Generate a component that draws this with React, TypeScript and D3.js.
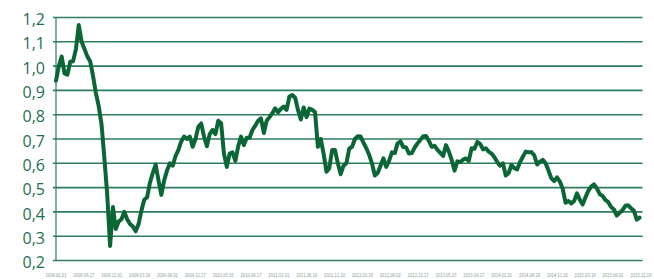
import * as d3 from "d3";
import { useEffect, useRef } from "react";

// series: values read every two weeks starting at seriesStart
const seriesStart = "2008-02-01";
const seriesStepDays = 14;
const seriesValues = [
  0.94, 1.0, 1.039, 0.97, 0.965, 1.018, 1.02, 1.07, 1.169, 1.1,
  1.07, 1.04, 1.02, 0.96, 0.89, 0.835, 0.76, 0.62, 0.47, 0.26,
  0.42, 0.33, 0.36, 0.37, 0.4, 0.37, 0.35, 0.34, 0.32, 0.35,
  0.405, 0.45, 0.46, 0.52, 0.56, 0.595, 0.53, 0.47, 0.53, 0.57,
  0.6, 0.59, 0.63, 0.655, 0.69, 0.71, 0.7, 0.71, 0.668, 0.7,
  0.75, 0.764, 0.71, 0.67, 0.72, 0.737, 0.72, 0.775, 0.765, 0.64,
  0.585, 0.64, 0.645, 0.61, 0.67, 0.71, 0.675, 0.705, 0.705, 0.737,
  0.755, 0.775, 0.785, 0.725, 0.775, 0.79, 0.806, 0.826, 0.81, 0.824,
  0.833, 0.82, 0.875, 0.881, 0.87, 0.82, 0.78, 0.83, 0.79, 0.825,
  0.82, 0.81, 0.668, 0.7, 0.64, 0.565, 0.58, 0.655, 0.655, 0.6,
  0.555, 0.59, 0.6, 0.66, 0.668, 0.7, 0.711, 0.71, 0.685, 0.662,
  0.635, 0.6, 0.55, 0.56, 0.59, 0.62, 0.585, 0.61, 0.645, 0.642,
  0.682, 0.69, 0.667, 0.665, 0.64, 0.642, 0.665, 0.682, 0.697, 0.711,
  0.712, 0.692, 0.668, 0.672, 0.655, 0.643, 0.63, 0.675, 0.648, 0.614,
  0.57, 0.608, 0.605, 0.615, 0.62, 0.61, 0.662, 0.66, 0.688, 0.68,
  0.657, 0.662, 0.648, 0.64, 0.625, 0.605, 0.59, 0.6, 0.55, 0.56,
  0.593, 0.58, 0.575, 0.605, 0.627, 0.648, 0.645, 0.646, 0.633, 0.595,
  0.607, 0.614, 0.6, 0.57, 0.538, 0.527, 0.542, 0.525, 0.495, 0.438,
  0.445, 0.435, 0.445, 0.476, 0.45, 0.43, 0.46, 0.487, 0.504, 0.513,
  0.497, 0.473, 0.466, 0.449, 0.44, 0.42, 0.41, 0.385, 0.397, 0.407,
  0.425, 0.427, 0.415, 0.405, 0.368, 0.376,
];

const xTickLabels = [
  "2008.02.01", "2008.06.17", "2008.11.01", "2009.03.18", "2009.08.02",
  "2009.12.17", "2010.05.03", "2010.09.17", "2011.02.01", "2011.06.18",
  "2011.11.02", "2012.03.18", "2012.08.02", "2012.12.17", "2013.05.03",
  "2013.09.17", "2014.02.01", "2014.06.18", "2014.11.02", "2015.03.18",
  "2015.08.02", "2015.12.18",
];

const yTickValues = [0.2, 0.3, 0.4, 0.5, 0.6, 0.7, 0.8, 0.9, 1.0, 1.1, 1.2];
const yTickLabels = ["0,2", "0,3", "0,4", "0,5", "0,6", "0,7", "0,8", "0,9", "1,0", "1,1", "1,2"];

export default function App() {
  const svgRef = useRef<SVGSVGElement>(null);

  useEffect(() => {
    if (!svgRef.current) return;
    const svg = d3.select(svgRef.current);
    svg.selectAll("*").remove();

    const parseTick = d3.timeParse("%Y.%m.%d");
    const parseStart = d3.timeParse("%Y-%m-%d");
    const start = parseStart(seriesStart) as Date;
    const tickDates = xTickLabels.map((t) => parseTick(t) as Date);

    const data = seriesValues.map((v, i) => ({
      date: d3.timeDay.offset(start, i * seriesStepDays),
      value: v,
    }));

    const xScale = d3
      .scaleTime()
      .domain([tickDates[0], tickDates[tickDates.length - 1]])
      .range([56, 641]);
    const yScale = d3.scaleLinear().domain([0.2, 1.2]).range([260.5, 17.5]);

    const gridColor = "#2e7d5d";

    // gridlines
    svg
      .append("g")
      .selectAll("line")
      .data(yTickValues)
      .enter()
      .append("line")
      .attr("x1", 53)
      .attr("x2", 642.5)
      .attr("y1", (d) => yScale(d))
      .attr("y2", (d) => yScale(d))
      .attr("stroke", gridColor)
      .attr("stroke-width", 1.6);

    // left axis
    svg
      .append("line")
      .attr("x1", 56)
      .attr("x2", 56)
      .attr("y1", yScale(1.2))
      .attr("y2", yScale(0.2))
      .attr("stroke", gridColor)
      .attr("stroke-width", 1.2);

    // y labels
    svg
      .append("g")
      .selectAll("text")
      .data(yTickValues)
      .enter()
      .append("text")
      .attr("x", 45)
      .attr("y", (d) => yScale(d) + 2)
      .attr("dy", "0.35em")
      .attr("text-anchor", "end")
      .attr("fill", "#1d6f50")
      .style("font-family", "'Open Sans', sans-serif")
      .style("font-size", "16px")
      .text((_, i) => yTickLabels[i]);

    // x labels
    svg
      .append("g")
      .selectAll("text")
      .data(tickDates)
      .enter()
      .append("text")
      .attr("x", (d) => xScale(d))
      .attr("y", 276.5)
      .attr("text-anchor", "middle")
      .attr("fill", "#7f9a8c")
      .attr("textLength", 21)
      .attr("lengthAdjust", "spacingAndGlyphs")
      .style("font-family", "'DejaVu Sans Condensed', 'Liberation Sans Narrow', sans-serif")
      .style("font-size", "5.5px")
      .text((_, i) => xTickLabels[i]);

    // series line
    const line = d3
      .line<{ date: Date; value: number }>()
      .x((d) => xScale(d.date))
      .y((d) => yScale(d.value));

    svg
      .append("path")
      .datum(data)
      .attr("fill", "none")
      .attr("stroke", "#0b6636")
      .attr("stroke-width", 4)
      .attr("stroke-linejoin", "round")
      .attr("stroke-linecap", "round")
      .attr("d", line);
  }, []);

  return (
    <svg
      ref={svgRef}
      width={654}
      height={279}
      style={{ position: "absolute", left: 0, top: 0, background: "#fff" }}
    />
  );
}
